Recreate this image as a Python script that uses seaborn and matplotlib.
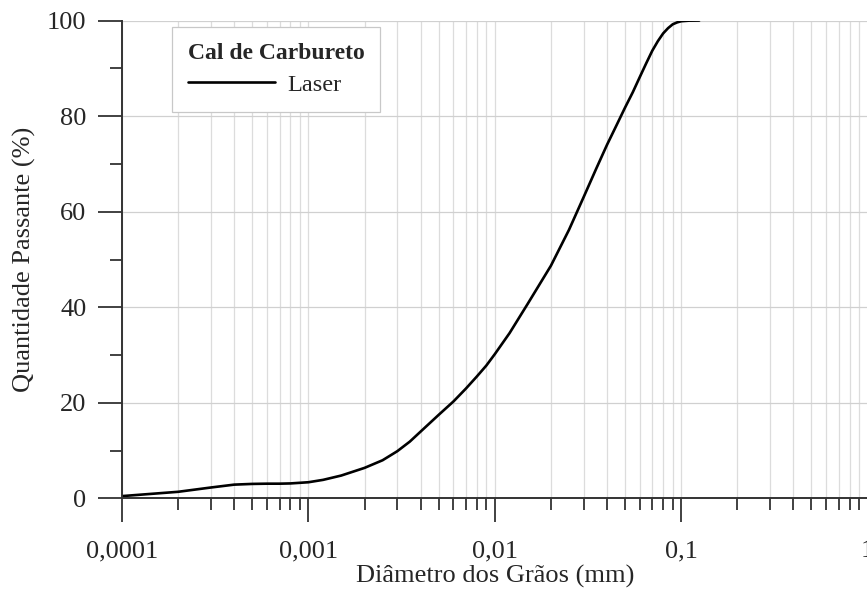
import matplotlib
matplotlib.use("Agg")
import matplotlib.pyplot as plt
import seaborn as sns
import pandas as pd
from matplotlib.ticker import LogLocator, NullFormatter, MultipleLocator

# Data
diametro = [0.0001, 0.0002, 0.0003, 0.0004, 0.0005, 0.0006, 0.0007, 0.0008,
            0.001, 0.0012, 0.0015, 0.002, 0.0025, 0.003, 0.0035, 0.004,
            0.005, 0.006, 0.007, 0.008, 0.009, 0.01, 0.012, 0.015, 0.02,
            0.025, 0.03, 0.035, 0.04, 0.045, 0.05, 0.055, 0.06, 0.065,
            0.07, 0.075, 0.08, 0.085, 0.09, 0.095, 0.1, 0.11, 0.125]
passante = [0.5, 1.4, 2.3, 2.9, 3.05, 3.1, 3.1, 3.15,
            3.4, 3.9, 4.8, 6.4, 8.0, 9.9, 11.9, 14.0,
            17.5, 20.3, 23.0, 25.5, 27.8, 30.2, 34.6, 40.7, 48.7,
            56.2, 63.1, 69.0, 74.0, 78.1, 81.8, 85.0, 88.2, 91.1,
            93.7, 95.7, 97.3, 98.4, 99.2, 99.6, 99.85, 99.97, 100.0]
serie = "Laser"
legend_title = "Cal de Carbureto"
x_ticks = [0.0001, 0.001, 0.01, 0.1, 1]
x_ticklabels = ["0,0001", "0,001", "0,01", "0,1", "1"]
y_ticks = [0, 20, 40, 60, 80, 100]

df = pd.DataFrame({"d": diametro, "p": passante, "s": serie})

sns.set_style("white")
plt.rcParams["font.family"] = ["Liberation Serif", "DejaVu Serif"]

fig = plt.figure(figsize=(8.67, 5.98), dpi=100)
ax = fig.add_axes([0.1407, 0.1664, 0.8600, 0.7993])

sns.lineplot(data=df, x="d", y="p", hue="s", palette=["black"],
             linewidth=1.9, ax=ax, estimator=None, sort=True)
for ln in ax.get_lines():
    ln.set_solid_joinstyle("round")
    ln.set_solid_capstyle("round")

ax.set_xscale("log")
ax.set_xlim(0.0001, 1)
ax.set_ylim(0, 100)

ax.set_xticks(x_ticks)
ax.set_xticklabels(x_ticklabels)
ax.xaxis.set_minor_locator(LogLocator(base=10, subs=range(2, 10), numticks=20))
ax.xaxis.set_minor_formatter(NullFormatter())
ax.set_yticks(y_ticks)
ax.yaxis.set_minor_locator(MultipleLocator(10))

ax.tick_params(axis="both", which="both", bottom=True, left=True,
               top=False, right=False)
ax.tick_params(axis="both", which="major", direction="out", length=17.5,
               width=1.3, labelsize=19, color="#333333")
ax.tick_params(axis="x", which="major", pad=12.5)
ax.tick_params(axis="y", which="major", pad=8)
ax.tick_params(axis="both", which="minor", direction="out", length=8.6,
               width=1.3, color="#333333")

ax.grid(True, axis="x", which="both", color="#dcdcdc", linewidth=0.9)
ax.grid(True, axis="y", which="major", color="#d0d0d0", linewidth=0.9)
ax.set_axisbelow(True)

for side in ["top", "right"]:
    ax.spines[side].set_visible(False)
for side in ["left", "bottom"]:
    ax.spines[side].set_color("#333333")
    ax.spines[side].set_linewidth(1.4)

ax.set_xlabel("Diâmetro dos Grãos (mm)", fontsize=19, labelpad=2)
ax.set_ylabel("Quantidade Passante (%)", fontsize=19, labelpad=8)

leg = ax.legend(title=legend_title, loc="upper left",
                bbox_to_anchor=(0.067, 0.987), fontsize=17.5,
                title_fontproperties={"weight": "bold", "size": 17},
                alignment="left", frameon=True, fancybox=False,
                framealpha=1, edgecolor="#c8c8c8", handlelength=3.6,
                borderpad=0.65, labelspacing=0.42, handletextpad=0.5,
                borderaxespad=0)
leg.get_frame().set_linewidth(0.9)
for line in leg.get_lines():
    line.set_linewidth(1.9)

fig.savefig("out.png", dpi=100)
